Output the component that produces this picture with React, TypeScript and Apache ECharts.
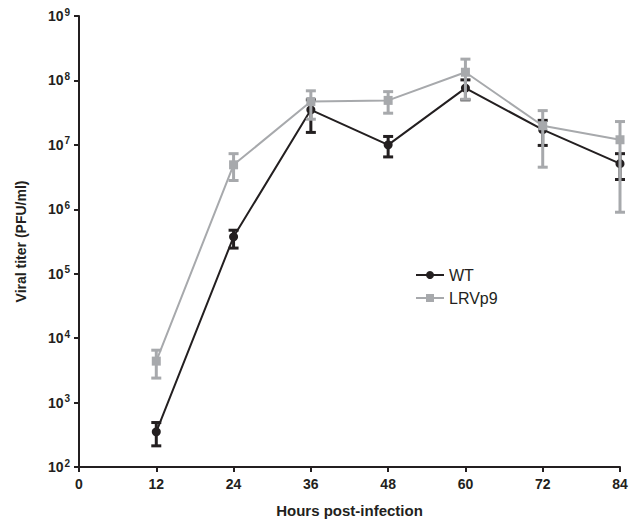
import React, { useEffect, useRef } from "react";
import * as echarts from "echarts";

const hours = [12, 24, 36, 48, 60, 72, 84];
const wtMean = [352, 3.74e5, 3.5e7, 1.0e7, 7.6e7, 1.72e7, 5.1e6];
const wtLow = [213, 2.5e5, 1.56e7, 6.5e6, 5.0e7, 9.8e6, 2.9e6];
const wtHigh = [490, 4.73e5, 5.0e7, 1.35e7, 1.02e8, 2.4e7, 7.3e6];
const lrvMean = [4.4e3, 4.9e6, 4.7e7, 4.9e7, 1.34e8, 1.98e7, 1.2e7];
const lrvLow = [2.4e3, 2.8e6, 2.5e7, 3.1e7, 5.1e7, 4.5e6, 9.0e5];
const lrvHigh = [6.5e3, 7.3e6, 6.9e7, 6.7e7, 2.14e8, 3.4e7, 2.3e7];
const xTicks = [0, 12, 24, 36, 48, 60, 72, 84];
const yExponents = [2, 3, 4, 5, 6, 7, 8, 9];

const BLACK = "#231f20";
const GRAY = "#a7a9ac";
const FONT = "Liberation Sans, Arial, sans-serif";

function errorSeries(name: string, low: number[], high: number[], color: string, z: number) {
  return {
    type: "custom",
    name: name + "_err",
    z,
    silent: true,
    data: hours.map((h, i) => [h, low[i], high[i]]),
    renderItem: (_params: any, api: any) => {
      const x = api.value(0);
      const lo = api.coord([x, api.value(1)]);
      const hi = api.coord([x, api.value(2)]);
      const half = 5;
      const style = { stroke: color, lineWidth: 3 };
      return {
        type: "group",
        children: [
          { type: "line", shape: { x1: lo[0], y1: lo[1], x2: hi[0], y2: hi[1] }, style },
          { type: "line", shape: { x1: lo[0] - half, y1: lo[1], x2: lo[0] + half, y2: lo[1] }, style },
          { type: "line", shape: { x1: hi[0] - half, y1: hi[1], x2: hi[0] + half, y2: hi[1] }, style },
        ],
      };
    },
  };
}

export default function App() {
  const ref = useRef<HTMLDivElement>(null);
  useEffect(() => {
    if (!ref.current) return;
    const chart = echarts.init(ref.current, undefined, { renderer: "svg" });
    chart.setOption({
      animation: false,
      textStyle: { fontFamily: FONT },
      grid: { left: 79, right: 18, top: 16, bottom: 55 },
      legend: {
        orient: "vertical",
        left: 410,
        top: 262,
        itemGap: 7,
        itemWidth: 28,
        itemHeight: 10,
        data: ["WT", "LRVp9"],
        textStyle: { fontSize: 16, color: "#231f20", fontFamily: FONT },
      },
      xAxis: {
        type: "value",
        min: 0,
        max: 84,
        interval: 12,
        name: "Hours post-infection",
        nameLocation: "middle",
        nameGap: 36,
        nameTextStyle: { fontSize: 15, fontWeight: "bold", color: BLACK, fontFamily: FONT },
        axisLine: { show: true, lineStyle: { color: BLACK, width: 2 } },
        axisTick: { show: true, length: 5, lineStyle: { color: BLACK, width: 2 } },
        axisLabel: {
          fontSize: 14,
          fontWeight: "bold",
          color: BLACK,
          margin: 10,
          formatter: (v: number) => (xTicks.includes(v) ? String(v) : ""),
        },
        splitLine: { show: false },
      },
      yAxis: {
        type: "log",
        logBase: 10,
        min: 100,
        max: 1e9,
        name: "Viral titer (PFU/ml)",
        nameLocation: "middle",
        nameGap: 51,
        nameTextStyle: { fontSize: 14, fontWeight: "bold", color: BLACK, fontFamily: FONT },
        axisLine: { show: true, lineStyle: { color: BLACK, width: 2 } },
        axisTick: { show: true, length: 5, lineStyle: { color: BLACK, width: 2 } },
        axisLabel: {
          margin: 9,
          formatter: (v: number) => {
            const e = Math.round(Math.log10(v));
            return yExponents.includes(e) ? "{b|10}{s|" + e + "}" : "";
          },
          rich: {
            b: { fontSize: 14, fontWeight: "bold", color: BLACK, fontFamily: FONT },
            s: { fontSize: 10, fontWeight: "bold", color: BLACK, fontFamily: FONT, verticalAlign: "top", padding: [0, 0, 8, 1] },
          },
        },
        splitLine: { show: false },
      },
      series: [
        errorSeries("WT", wtLow, wtHigh, BLACK, 1),
        {
          type: "line",
          name: "WT",
          z: 2,
          data: hours.map((h, i) => [h, wtMean[i]]),
          symbol: "circle",
          symbolSize: 9,
          lineStyle: { color: BLACK, width: 2 },
          itemStyle: { color: BLACK },
        },
        errorSeries("LRVp9", lrvLow, lrvHigh, GRAY, 3),
        {
          type: "line",
          name: "LRVp9",
          z: 4,
          data: hours.map((h, i) => [h, lrvMean[i]]),
          symbol: "rect",
          symbolSize: 9,
          lineStyle: { color: GRAY, width: 2 },
          itemStyle: { color: GRAY },
        },
      ],
    });
    return () => chart.dispose();
  }, []);
  return <div ref={ref} style={{ width: 638, height: 523, position: "absolute", left: 0, top: 0, background: "#fff" }} />;
}
